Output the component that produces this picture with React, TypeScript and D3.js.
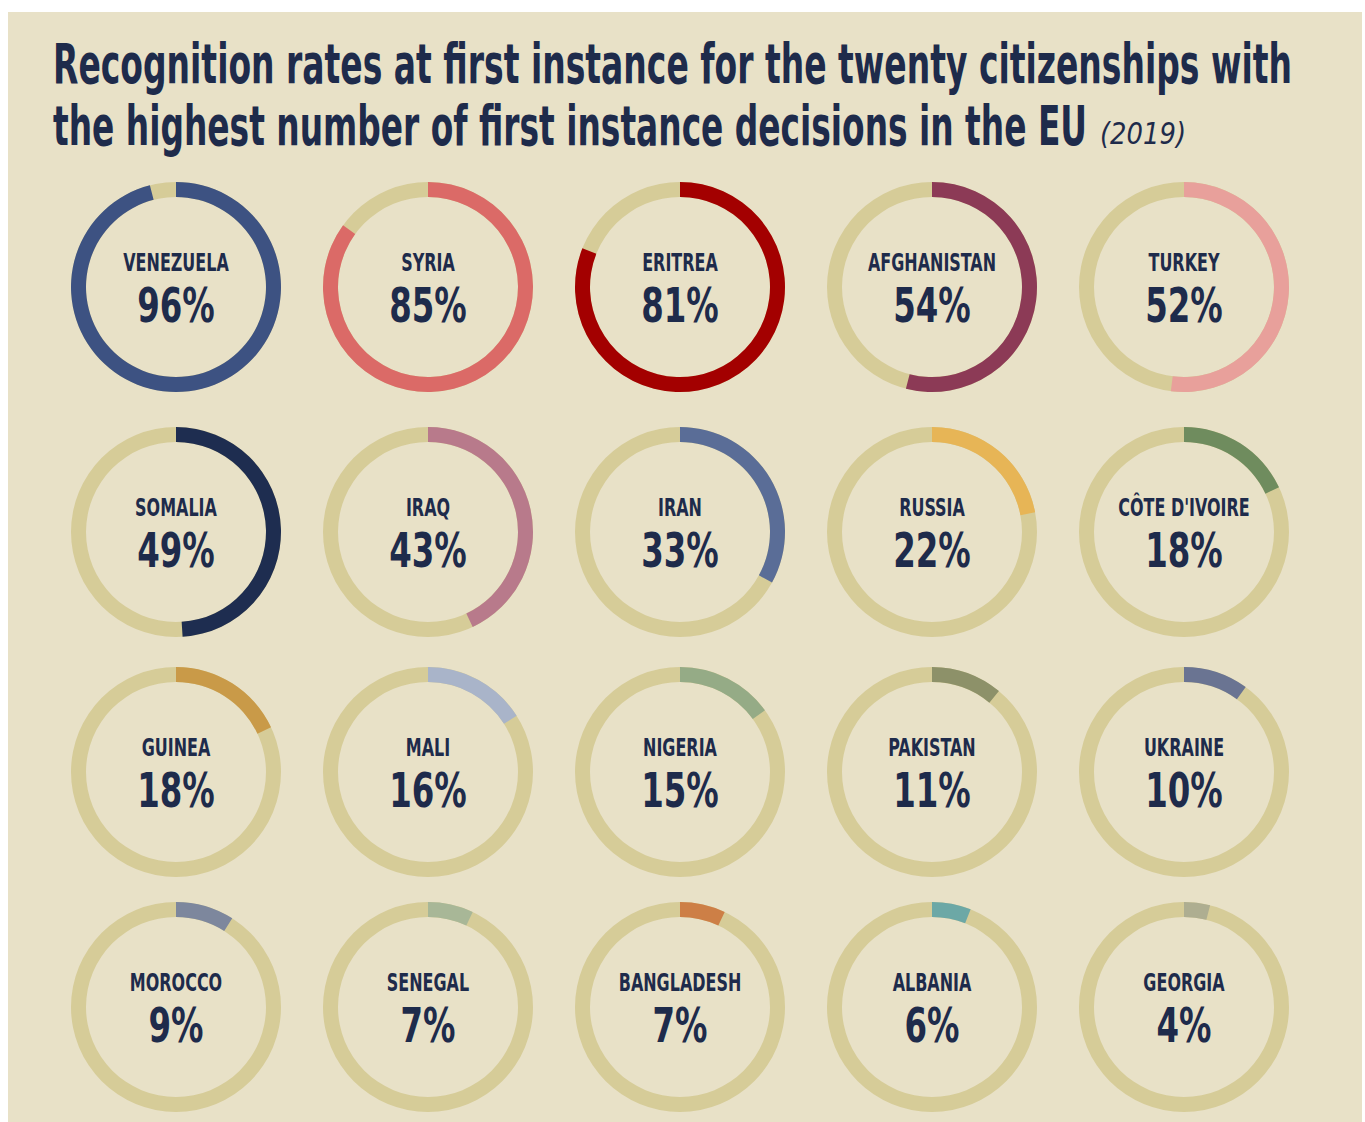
import React from "react";
import * as d3 from "d3";

const countries = [
  "VENEZUELA", "SYRIA", "ERITREA", "AFGHANISTAN", "TURKEY",
  "SOMALIA", "IRAQ", "IRAN", "RUSSIA", "CÔTE D'IVOIRE",
  "GUINEA", "MALI", "NIGERIA", "PAKISTAN", "UKRAINE",
  "MOROCCO", "SENEGAL", "BANGLADESH", "ALBANIA", "GEORGIA",
];
const rates = [96, 85, 81, 54, 52, 49, 43, 33, 22, 18, 18, 16, 15, 11, 10, 9, 7, 7, 6, 4];
const colors = [
  "#3d5282", "#db6a67", "#a30000", "#8c3a56", "#e8a09b",
  "#1e2d50", "#b87a8b", "#5a6d97", "#e7b556", "#6f8c5e",
  "#c99a48", "#a9b4c9", "#95ab86", "#8d9169", "#6a7492",
  "#7d879d", "#a8b797", "#cd7f46", "#6ca8a6", "#aeae91",
];
const titleLines = [
  "Recognition rates at first instance for the twenty citizenships with",
  "the highest number of first instance decisions in the EU",
];
const titleYear = "(2019)";

const W = 1365;
const H = 1122;
const BG = "#e8e1c7";
const TRACK = "#d6cc98";
const INK = "#1e2b4b";
const FONT = "'Liberation Sans Narrow', 'DejaVu Sans Condensed', 'Roboto Condensed', sans-serif";
const TSX = 0.655;

export default function App() {
  const col = d3.scaleLinear().domain([0, 4]).range([176, 1184]);
  const rowY = d3.scaleOrdinal<number, number>().domain([0, 1, 2, 3]).range([287, 532, 772, 1007]);
  const angle = d3.scaleLinear().domain([0, 100]).range([0, 2 * Math.PI]);
  const arc = d3.arc<{ s: number; e: number }>()
    .innerRadius(90)
    .outerRadius(105)
    .startAngle((d) => d.s)
    .endAngle((d) => d.e);

  return (
    <svg
      width={W}
      height={H}
      style={{ position: "absolute", left: 0, top: 0, display: "block" }}
      viewBox={`0 0 ${W} ${H}`}
    >
      <rect x={0} y={0} width={W} height={H} fill="#ffffff" />
      <rect x={8} y={12} width={1354} height={1110} fill={BG} />
      <g transform={`translate(53,0) scale(${TSX},1)`}>
        <text
          x={0}
          y={83}
          fontFamily={FONT}
          fontWeight="bold"
          fontSize={56}
          fill={INK}
          textLength={1239 / TSX}
          lengthAdjust="spacingAndGlyphs"
        >
          {titleLines[0]}
        </text>
        <text
          x={0}
          y={145}
          fontFamily={FONT}
          fontWeight="bold"
          fontSize={56}
          fill={INK}
          textLength={1034 / TSX}
          lengthAdjust="spacingAndGlyphs"
        >
          {titleLines[1]}
        </text>
      </g>
      <text
        x={1100}
        y={144}
        fontFamily={FONT}
        fontStyle="italic"
        fontSize={30}
        fill={INK}
        textLength={86}
        lengthAdjust="spacingAndGlyphs"
      >
        {titleYear}
      </text>
      {countries.map((name, i) => {
        const cx = col(i % 5);
        const cy = rowY(Math.floor(i / 5));
        const v = rates[i];
        return (
          <g key={name} transform={`translate(${cx},${cy})`}>
            <path d={arc({ s: 0, e: 2 * Math.PI }) || ""} fill={TRACK} />
            <path d={arc({ s: 0, e: angle(v) }) || ""} fill={colors[i]} />
            <text
              x={0}
              y={-16}
              transform="scale(0.71,1)"
              textAnchor="middle"
              fontFamily={FONT}
              fontWeight="bold"
              fontSize={25}
              fill={INK}
            >
              {name}
            </text>
            <text
              x={0}
              y={35}
              transform="scale(0.75,1)"
              textAnchor="middle"
              fontFamily={FONT}
              fontWeight="bold"
              fontSize={48}
              fill={INK}
            >
              {`${v}%`}
            </text>
          </g>
        );
      })}
    </svg>
  );
}
